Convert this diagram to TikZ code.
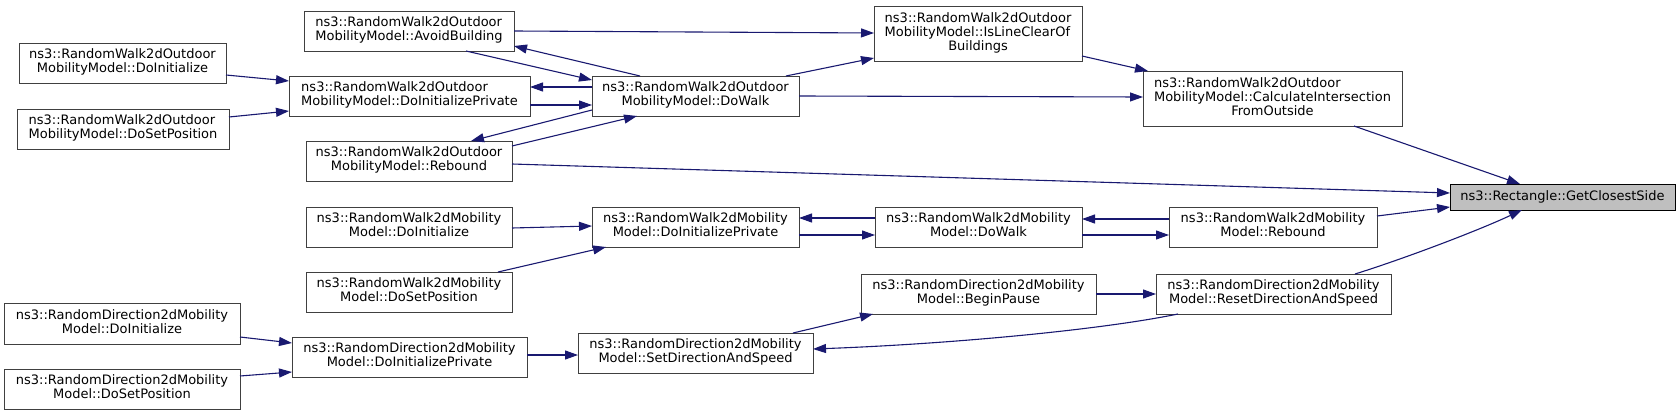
\documentclass[tikz,border=0pt]{standalone}
\usepackage{fontspec}
\setmainfont{DejaVu Sans}
\usetikzlibrary{arrows.meta,calc}
\definecolor{edgec}{HTML}{191970}
\definecolor{bordc}{HTML}{404040}
\definecolor{hlfill}{HTML}{BFBFBF}
\newcommand\labtwo[2]{\begin{tabular}{@{}l@{}}#1\\\multicolumn{1}{@{}c@{}}{#2}\end{tabular}}
\newcommand\labthree[3]{\begin{tabular}{@{}l@{}}#1\\#2\\\multicolumn{1}{@{}c@{}}{#3}\end{tabular}}
\begin{document}
\begin{tikzpicture}[x=1pt,y=-1pt,
  box/.style={draw=bordc,line width=1pt,fill=white,rectangle,inner sep=0pt,outer sep=0pt,anchor=north west,
    font=\fontsize{13}{14.2}\selectfont},
  hlbox/.style={box,draw=black,fill=hlfill},
  edge/.style={draw=edgec,line width=1.1pt,-{Triangle[length=13pt,width=9pt]}}]
\useasboundingbox (0,0) rectangle (1680,415);
% outdoor group
\node[box,minimum width=207,minimum height=40] (odi) at (19,43) {\labtwo{ns3::RandomWalk2dOutdoor}{MobilityModel::DoInitialize}};
\node[box,minimum width=212,minimum height=40] (odsp) at (17,109) {\labtwo{ns3::RandomWalk2dOutdoor}{MobilityModel::DoSetPosition}};
\node[box,minimum width=210,minimum height=40] (oab) at (304,11) {\labtwo{ns3::RandomWalk2dOutdoor}{MobilityModel::AvoidBuilding}};
\node[box,minimum width=241,minimum height=40] (odip) at (289,76) {\labtwo{ns3::RandomWalk2dOutdoor}{MobilityModel::DoInitializePrivate}};
\node[box,minimum width=206,minimum height=40] (orb) at (306,141) {\labtwo{ns3::RandomWalk2dOutdoor}{MobilityModel::Rebound}};
\node[box,minimum width=207,minimum height=40] (odw) at (592,76) {\labtwo{ns3::RandomWalk2dOutdoor}{MobilityModel::DoWalk}};
\node[box,minimum width=208,minimum height=55] (oilc) at (874,6) {\labthree{ns3::RandomWalk2dOutdoor}{MobilityModel::IsLineClearOf}{Buildings}};
\node[box,minimum width=259,minimum height=55] (ocalc) at (1143,71) {\labthree{ns3::RandomWalk2dOutdoor}{MobilityModel::CalculateIntersection}{FromOutside}};
\node[hlbox,minimum width=225,minimum height=26] (gcs) at (1450,184) {ns3::Rectangle::GetClosestSide};
% random walk group
\node[box,minimum width=206,minimum height=40] (rwdi) at (306,207) {\labtwo{ns3::RandomWalk2dMobility}{Model::DoInitialize}};
\node[box,minimum width=206,minimum height=40] (rwdsp) at (306,272) {\labtwo{ns3::RandomWalk2dMobility}{Model::DoSetPosition}};
\node[box,minimum width=207,minimum height=40] (rwdip) at (592,207) {\labtwo{ns3::RandomWalk2dMobility}{Model::DoInitializePrivate}};
\node[box,minimum width=207,minimum height=40] (rwdw) at (875,207) {\labtwo{ns3::RandomWalk2dMobility}{Model::DoWalk}};
\node[box,minimum width=208,minimum height=40] (rwrb) at (1169,207) {\labtwo{ns3::RandomWalk2dMobility}{Model::Rebound}};
% random direction group
\node[box,minimum width=236,minimum height=41] (rddi) at (4,303) {\labtwo{ns3::RandomDirection2dMobility}{Model::DoInitialize}};
\node[box,minimum width=236,minimum height=40] (rddsp) at (4,369) {\labtwo{ns3::RandomDirection2dMobility}{Model::DoSetPosition}};
\node[box,minimum width=235,minimum height=40] (rddip) at (292,337) {\labtwo{ns3::RandomDirection2dMobility}{Model::DoInitializePrivate}};
\node[box,minimum width=235,minimum height=40] (rdsds) at (578,333) {\labtwo{ns3::RandomDirection2dMobility}{Model::SetDirectionAndSpeed}};
\node[box,minimum width=235,minimum height=40] (rdbp) at (861,274) {\labtwo{ns3::RandomDirection2dMobility}{Model::BeginPause}};
\node[box,minimum width=235,minimum height=40] (rdrds) at (1156,274) {\labtwo{ns3::RandomDirection2dMobility}{Model::ResetDirectionAndSpeed}};
% edges
\path[edge] ($(odi.north west)+(207,32)$) -- ($(odip.north west)+(0,5)$);
\path[edge] ($(odsp.north west)+(212,8)$) -- ($(odip.north west)+(0,35)$);
\path[edge] ($(odw.north west)+(0,11)$) -- ($(odip.north west)+(241,11)$);
\path[edge] ($(odip.north west)+(241,29)$) -- ($(odw.north west)+(0,29)$);
\path[edge] ($(oab.north west)+(162,40)$) -- ($(odw.north west)+(0,4)$);
\path[edge] ($(odw.north west)+(48,0)$) -- ($(oab.north west)+(210,35)$);
\path[edge] ($(odw.north west)+(0,34)$) -- ($(orb.north west)+(165,0)$);
\path[edge] ($(orb.north west)+(206,5)$) -- ($(odw.north west)+(45,40)$);
\path[edge] ($(oab.north west)+(210,20)$) -- ($(oilc.north west)+(0,27)$);
\path[edge] ($(odw.north west)+(194,0)$) -- ($(oilc.north west)+(0,52)$);
\path[edge] ($(odw.north west)+(207,20)$) -- ($(ocalc.north west)+(0,26)$);
\path[edge] ($(oilc.north west)+(208,50)$) -- ($(ocalc.north west)+(5,0)$);
\path[edge] ($(ocalc.north west)+(211,55)$) -- ($(gcs.north west)+(70,0)$);
\path[edge] ($(orb.north west)+(206,23)$) -- ($(gcs.north west)+(0,9)$);
\path[edge] ($(rwrb.north west)+(208,9)$) -- ($(gcs.north west)+(0,23)$);
\path[edge] ($(rdrds.north west)+(199,0)$) .. controls (1400,260) and (1475,232) .. ($(gcs.north west)+(72,26)$);
\path[edge] ($(rwdi.north west)+(206,21)$) -- ($(rwdip.north west)+(0,19)$);
\path[edge] ($(rwdsp.north west)+(192,0)$) -- ($(rwdip.north west)+(14,40)$);
\path[edge] ($(rwdw.north west)+(0,11)$) -- ($(rwdip.north west)+(207,11)$);
\path[edge] ($(rwdip.north west)+(207,28)$) -- ($(rwdw.north west)+(0,28)$);
\path[edge] ($(rwrb.north west)+(0,12)$) -- ($(rwdw.north west)+(207,12)$);
\path[edge] ($(rwdw.north west)+(207,28)$) -- ($(rwrb.north west)+(0,28)$);
\path[edge] ($(rddi.north west)+(236,34)$) -- ($(rddip.north west)+(0,6)$);
\path[edge] ($(rddsp.north west)+(236,7)$) -- ($(rddip.north west)+(0,35)$);
\path[edge] ($(rddip.north west)+(235,18)$) -- ($(rdsds.north west)+(0,22)$);
\path[edge] ($(rdsds.north west)+(215,0)$) -- ($(rdbp.north west)+(12,40)$);
\path[edge] ($(rdbp.north west)+(235,20)$) -- ($(rdrds.north west)+(0,20)$);
\path[edge] ($(rdrds.north west)+(22,40)$) .. controls (1100,330) and (950,344) .. ($(rdsds.north west)+(235,16)$);
\end{tikzpicture}
\end{document}
